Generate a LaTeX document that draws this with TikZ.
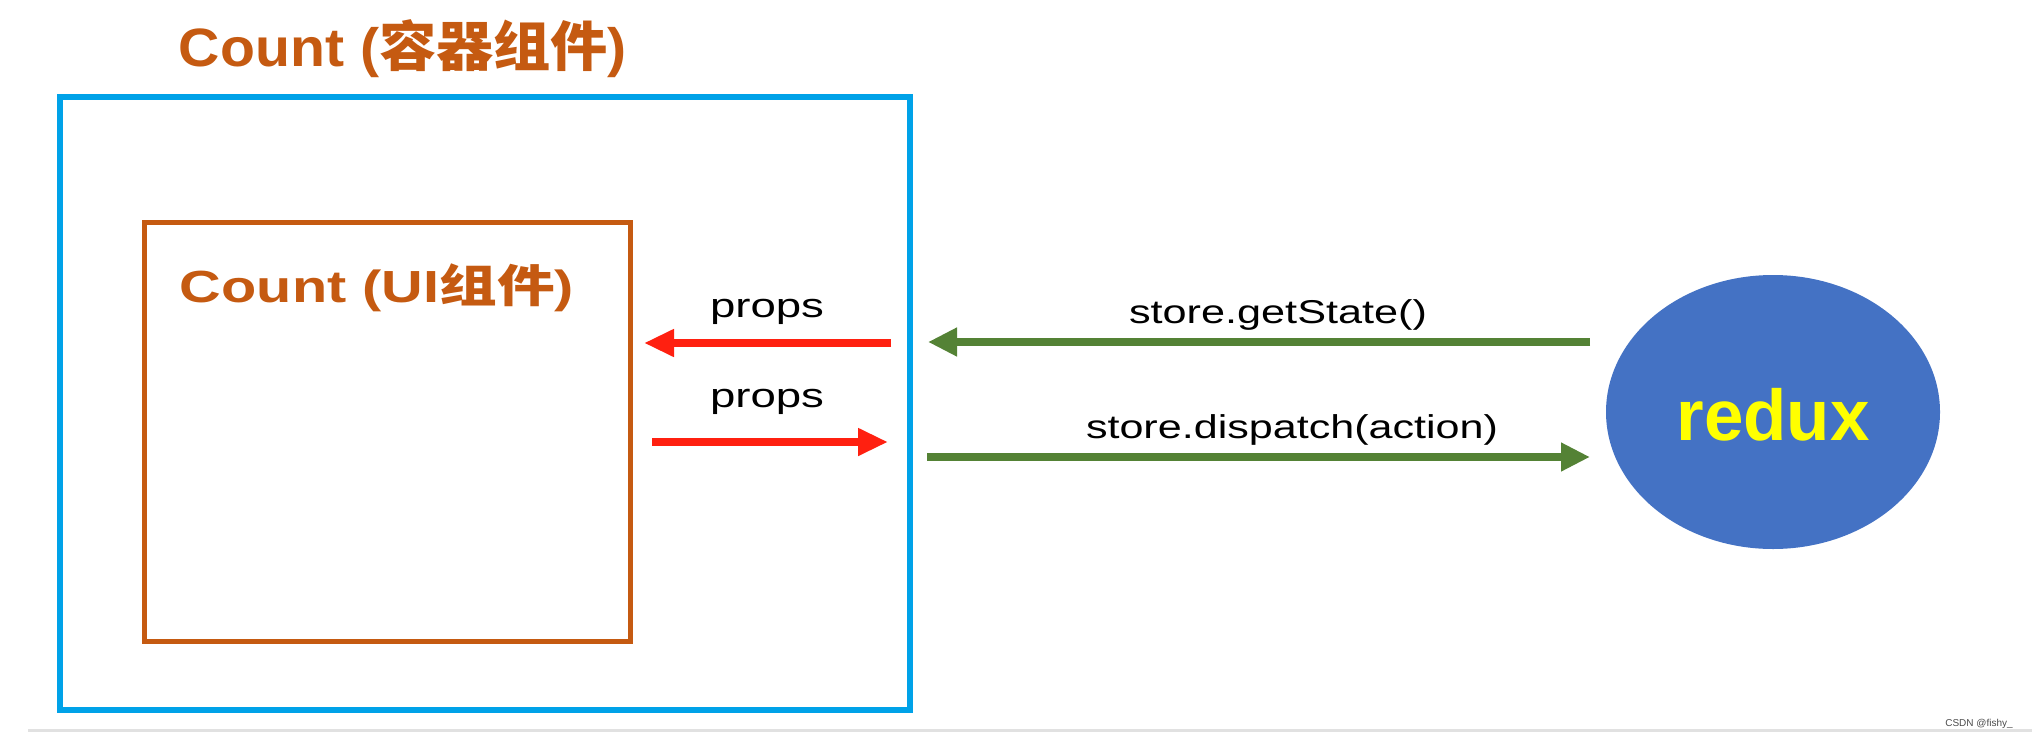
\documentclass[tikz,border=0pt]{standalone}
\usepackage{fontspec}
\setmainfont{Liberation Sans}
\newfontfamily\cjk{Noto Sans CJK SC}
\usetikzlibrary{arrows.meta,shapes.geometric}
\definecolor{boxblue}{RGB}{0,162,232}
\definecolor{boxorange}{RGB}{197,90,17}
\definecolor{arrred}{RGB}{255,32,16}
\definecolor{arrgreen}{RGB}{84,130,53}
\definecolor{reduxblue}{RGB}{68,114,196}
\definecolor{reduxyellow}{RGB}{255,255,0}
\definecolor{rulegray}{RGB}{225,225,225}
\tikzset{
  redarrow/.style={draw=arrred,line width=8.5pt,-{Triangle[width=26pt,length=30pt]}},
  greenarrow/.style={draw=arrgreen,line width=8pt,-{Triangle[width=27pt,length=29pt]}},
  lbl/.style={anchor=base,inner sep=0pt,text=black},
}
\newcommand{\fitw}[2]{\resizebox{#1}{\height}{#2}}
\begin{document}
\begin{tikzpicture}[x=1pt,y=-1pt]
\useasboundingbox[fill=white] (0,0) rectangle (2032,739);
% boxes
\node[draw=boxblue,line width=5.5pt,minimum width=850pt,minimum height=613pt,inner sep=0pt] (outer) at (485,403.5) {};
\node[draw=boxorange,line width=5pt,minimum width=486pt,minimum height=419pt,inner sep=0pt] (inner) at (387,431.5) {};
% titles
\node[lbl,text=boxorange] (ttl) at (403,66) {\fontsize{54}{58}\selectfont\fitw{448pt}{\bfseries Count ({\cjk\bfseries 容器组件})}};
\node[lbl,text=boxorange] (uittl) at (377,302) {\fontsize{45}{50}\selectfont\fitw{394pt}{\bfseries Count (UI{\cjk\bfseries 组件})}};
% redux
\node[ellipse,fill=reduxblue,minimum width=334pt,minimum height=274pt,inner sep=0pt] (redux) at (1773,412) {};
\node[lbl,text=reduxyellow] (reduxtxt) at (1773,440) {\fontsize{72}{80}\selectfont\fitw{193pt}{\bfseries redux}};
% arrow end points
\coordinate (r1s) at (891,343); \coordinate (r1e) at (644,343);
\coordinate (r2s) at (652,442); \coordinate (r2e) at (888,442);
\coordinate (g1s) at (1590,342); \coordinate (g1e) at (928,342);
\coordinate (g2s) at (927,457); \coordinate (g2e) at (1590,457);
\draw[redarrow] (r1s) -- (r1e);
\draw[redarrow] (r2s) -- (r2e);
\draw[greenarrow] (g1s) -- (g1e);
\draw[greenarrow] (g2s) -- (g2e);
% labels
\node[lbl] (p1) at (767,317) {\fontsize{34}{36}\selectfont\fitw{114pt}{props}};
\node[lbl] (p2) at (767,407) {\fontsize{34}{36}\selectfont\fitw{114pt}{props}};
\node[lbl] (gs) at (1278,323) {\fontsize{33}{36}\selectfont\fitw{298pt}{store.getState()}};
\node[lbl] (dp) at (1292,438) {\fontsize{33}{36}\selectfont\fitw{412pt}{store.dispatch(action)}};
% bottom rule and watermark
\coordinate (ruleL) at (28,730); \coordinate (ruleR) at (2032,730);
\draw[rulegray,line width=3pt] (ruleL) -- (ruleR);
\node[lbl,text=black!70] (wm) at (1979,726) {\fontsize{10}{12}\selectfont CSDN @fishy\_};
\end{tikzpicture}
\end{document}
